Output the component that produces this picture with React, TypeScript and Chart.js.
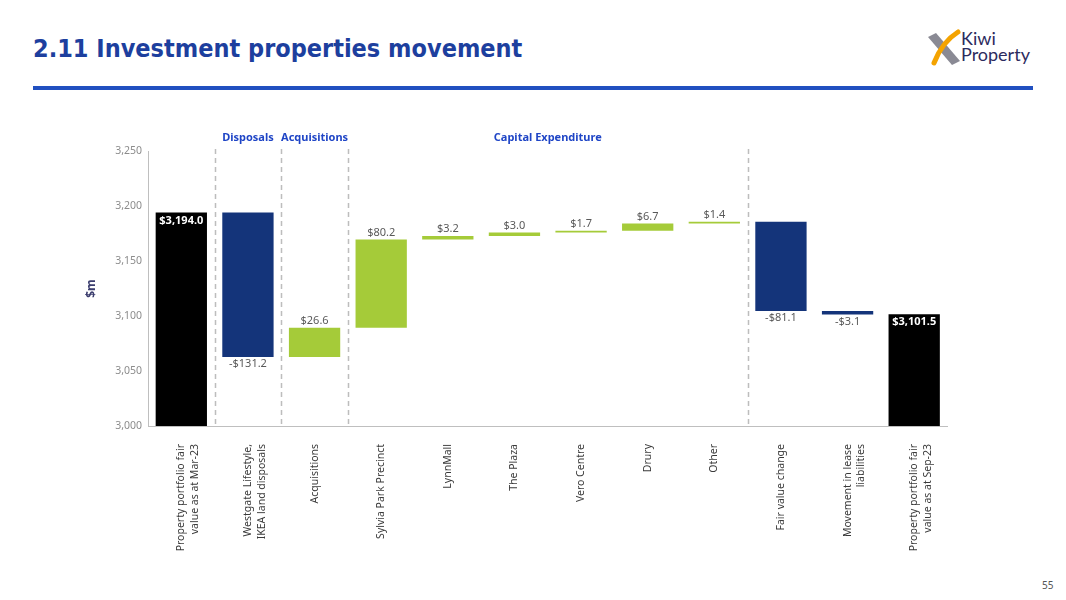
import React, { useEffect, useRef } from "react";
import { Chart, registerables } from "chart.js";

Chart.register(...registerables);

// ---- Data ----
const categories: (string | string[])[] = [
  ["Property portfolio fair", "value as at Mar-23"],
  ["Westgate Lifestyle,", "IKEA land disposals"],
  "Acquisitions",
  "Sylvia Park Precinct",
  "LynnMall",
  "The Plaza",
  "Vero Centre",
  "Drury",
  "Other",
  "Fair value change",
  ["Movement in lease", "liabilities"],
  ["Property portfolio fair", "value as at Sep-23"],
];
const changes = [3194.0, -131.2, 26.6, 80.2, 3.2, 3.0, 1.7, 6.7, 1.4, -81.1, -3.1, 3101.5];
const kinds = [
  "total", "decrease", "increase", "increase", "increase", "increase",
  "increase", "increase", "increase", "decrease", "decrease", "total",
];
const yTicks = [3000, 3050, 3100, 3150, 3200, 3250];
const separatorsAfter = [0, 1, 2, 8];
const groupNames = ["Disposals", "Acquisitions", "Capital Expenditure"];
const groupFirst = [1, 2, 3];
const groupLast = [1, 2, 8];

const kindColors: Record<string, string> = {
  total: "#000000",
  decrease: "#14347a",
  increase: "#a5cb39",
};

const FONT = "'Noto Sans', 'DejaVu Sans', sans-serif";

function buildRanges(): [number, number][] {
  const base = yTicks[0];
  let running = 0;
  return changes.map((v, i) => {
    if (kinds[i] === "total") {
      running = v;
      return [base, v] as [number, number];
    }
    const start = running;
    running = running + v;
    return [start, running] as [number, number];
  });
}

function fmtLabel(v: number, kind: string): string {
  const abs = Math.abs(v).toLocaleString("en-US", { minimumFractionDigits: 1, maximumFractionDigits: 1 });
  if (kind === "total") return "$" + abs;
  return (v < 0 ? "-$" : "$") + abs;
}

const overlayPlugin = {
  id: "overlay",
  afterDatasetsDraw(chart: any) {
    const { ctx, chartArea, scales } = chart;
    const x = scales.x;
    const y = scales.y;
    ctx.save();
    // dashed separators
    ctx.strokeStyle = "#bdbdbd";
    ctx.lineWidth = 1.5;
    ctx.setLineDash([5, 4]);
    separatorsAfter.forEach((i) => {
      const px = Math.round((x.getPixelForValue(i) + x.getPixelForValue(i + 1)) / 2) + 0.5;
      ctx.beginPath();
      ctx.moveTo(px, chartArea.top - 2);
      ctx.lineTo(px, chartArea.bottom);
      ctx.stroke();
    });
    ctx.setLineDash([]);

    // group headings
    ctx.font = `bold 11px ${FONT}`;
    ctx.fillStyle = "#1f45c6";
    ctx.textAlign = "center";
    ctx.textBaseline = "middle";
    groupNames.forEach((name, g) => {
      const cx = (x.getPixelForValue(groupFirst[g]) + x.getPixelForValue(groupLast[g])) / 2;
      ctx.fillText(name, cx, chartArea.top - 13);
    });

    // value labels
    const ranges = buildRanges();
    const meta = chart.getDatasetMeta(0);
    meta.data.forEach((el: any, i: number) => {
      const [a, b] = ranges[i];
      const top = y.getPixelForValue(Math.max(a, b));
      const bottom = y.getPixelForValue(Math.min(a, b));
      const label = fmtLabel(changes[i], kinds[i]);
      if (kinds[i] === "total") {
        ctx.font = `bold 11px ${FONT}`;
        ctx.fillStyle = "#ffffff";
        ctx.fillText(label, el.x, top + 8);
      } else if (changes[i] >= 0) {
        ctx.font = `11px ${FONT}`;
        ctx.fillStyle = "#595959";
        ctx.fillText(label, el.x, top - 7);
      } else {
        ctx.font = `11px ${FONT}`;
        ctx.fillStyle = "#595959";
        ctx.fillText(label, el.x, bottom + 7);
      }
    });
    ctx.restore();
  },
};

function WaterfallChart() {
  const ref = useRef<HTMLCanvasElement | null>(null);
  useEffect(() => {
    if (!ref.current) return;
    const ranges = buildRanges();
    const chart = new Chart(ref.current, {
      type: "bar",
      data: {
        labels: categories as any,
        datasets: [
          {
            data: ranges as any,
            backgroundColor: kinds.map((k) => kindColors[k]),
            borderWidth: 0,
            barPercentage: 0.77,
            categoryPercentage: 1,
            borderSkipped: false,
          },
        ],
      },
      options: {
        responsive: false,
        animation: false,
        layout: { padding: { top: 26, right: 12, left: 0, bottom: 0 } },
        plugins: {
          legend: { display: false },
          tooltip: { enabled: false },
        },
        scales: {
          x: {
            grid: { display: false, drawTicks: false },
            border: { display: true, color: "#bfbfbf", width: 1 },
            ticks: {
              minRotation: 90,
              maxRotation: 90,
              autoSkip: false,
              padding: 18,
              color: "#3a3a3a",
              font: { family: FONT, size: 10.5, lineHeight: 1.3 },
            },
            afterFit: (scale: any) => {
              scale.height = 159;
            },
          },
          y: {
            min: yTicks[0],
            max: yTicks[yTicks.length - 1],
            grid: { display: false, drawTicks: false },
            border: { display: true, color: "#bfbfbf", width: 1 },
            ticks: {
              stepSize: yTicks[1] - yTicks[0],
              padding: 6,
              color: "#8c8c8c",
              font: { family: FONT, size: 10.5 },
              callback: (v: any) => Number(v).toLocaleString("en-US"),
            },
            title: {
              display: true,
              text: "$m",
              color: "#3b3d6e",
              font: { family: FONT, size: 12, weight: "bold" },
              padding: { top: 14, bottom: 0 },
            },
            afterFit: (scale: any) => {
              scale.width = 78;
            },
          },
        },
      },
      plugins: [overlayPlugin],
    });
    return () => chart.destroy();
  }, []);
  return (
    <canvas
      ref={ref}
      width={890}
      height={460}
      style={{ position: "absolute", left: 70, top: 125, width: 890, height: 460 }}
    />
  );
}

export default function App() {
  return (
    <div
      style={{
        position: "fixed",
        left: 0,
        top: 0,
        width: 1066,
        height: 600,
        background: "#ffffff",
        overflow: "hidden",
        fontFamily: FONT,
      }}
    >
      <div
        style={{
          position: "absolute",
          left: 33,
          top: 36,
          fontFamily: "'DejaVu Sans Condensed', 'DejaVu Sans', sans-serif",
          fontWeight: 700,
          fontSize: 25,
          lineHeight: "25px",
          color: "#1d3f9e",
          whiteSpace: "nowrap",
        }}
      >
        2.11 Investment properties movement
      </div>
      <div
        style={{
          position: "absolute",
          left: 33,
          top: 86,
          width: 1000,
          height: 4,
          background: "#2150c0",
        }}
      />
      <svg
        width={40}
        height={40}
        viewBox="0 0 40 40"
        style={{ position: "absolute", left: 924, top: 28 }}
      >
        <polygon points="4,9 12,5 36,33 28,37" fill="#8a8a94" />
        <path d="M 34 4 Q 18 14 10 35" stroke="#f4a300" strokeWidth={5} fill="none" strokeLinecap="round" />
      </svg>
      <div
        style={{
          position: "absolute",
          left: 961,
          top: 30,
          fontFamily: "Lato, 'Noto Sans', sans-serif",
          fontSize: 18,
          lineHeight: "16px",
          color: "#2c2b5e",
        }}
      >
        <div>Kiwi</div>
        <div>Property</div>
      </div>
      <WaterfallChart />
      <div
        style={{
          position: "absolute",
          left: 1042,
          top: 578,
          fontSize: 10,
          color: "#555",
        }}
      >
        55
      </div>
    </div>
  );
}
